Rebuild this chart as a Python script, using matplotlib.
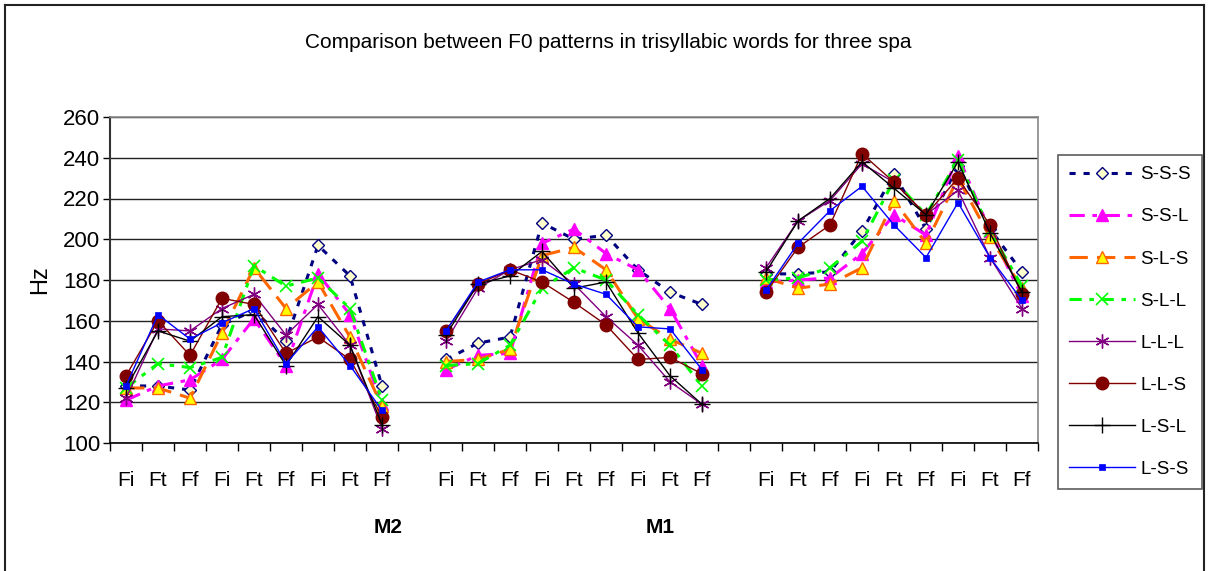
import matplotlib
matplotlib.use("Agg")
import matplotlib.pyplot as plt
from matplotlib.lines import Line2D
import numpy as np

plt.rcParams["font.family"] = ["Liberation Sans", "DejaVu Sans"]

TITLE = "Comparison between F0 patterns in trisyllabic words for three spa"
TICK_LABELS = ["Fi", "Ft", "Ff"] * 3
GROUPS = ["M2", "M1", ""]

# F0 (Hz) per series, one list of 9 values per speaker group: M2, M1, third
SSS = [[128, 128, 126, 158, 165, 150, 197, 182, 128],
       [141, 149, 152, 208, 200, 202, 185, 174, 168],
       [183, 183, 184, 204, 232, 205, 236, 205, 184]]
SSL = [[121, 128, 131, 141, 161, 138, 183, 163, 119],
       [136, 143, 144, 198, 205, 193, 185, 166, 138],
       [179, 180, 181, 193, 212, 202, 241, 204, 172]]
SLS = [[127, 127, 122, 154, 186, 166, 179, 152, 118],
       [140, 141, 146, 192, 196, 185, 161, 151, 144],
       [181, 176, 178, 186, 219, 198, 230, 201, 176]]
SLL = [[127, 139, 137, 142, 187, 177, 181, 166, 121],
       [138, 139, 148, 176, 186, 180, 163, 148, 128],
       [180, 181, 186, 199, 229, 212, 239, 204, 177]]
LLL = [[122, 156, 155, 166, 173, 153, 168, 148, 107],
       [150, 176, 185, 190, 178, 162, 148, 130, 119],
       [186, 209, 219, 237, 228, 212, 224, 191, 166]]
LLS = [[133, 160, 143, 171, 168, 144, 152, 141, 113],
       [155, 178, 185, 179, 169, 158, 141, 142, 134],
       [174, 196, 207, 242, 228, 212, 230, 207, 173]]
LSL = [[127, 155, 150, 162, 163, 138, 162, 148, 109],
       [153, 178, 182, 194, 176, 179, 154, 133, 119],
       [184, 209, 220, 238, 225, 212, 238, 203, 174]]
LSS = [[128, 163, 151, 159, 166, 139, 157, 138, 116],
       [155, 179, 185, 185, 178, 173, 157, 156, 136],
       [175, 198, 214, 226, 207, 191, 218, 191, 170]]


def with_gaps(groups):
    out = []
    for i, g in enumerate(groups):
        if i:
            out.append(np.nan)
        out.extend(g)
    return np.array(out, dtype=float)


SERIES = [
    ("S-S-S", SSS, dict(color="#000080", lw=2.2, ls=(0, (2, 2.6)), marker="D", ms=6.5,
                        mfc="#FFFFCC", mec="#000080", mew=1.0)),
    ("S-S-L", SSL, dict(color="#FF00FF", lw=2.2, ls=(0, (5, 2.5, 1.5, 2.5)), marker="^", ms=9,
                        mfc="#FF00FF", mec="#FF00FF", mew=1.0)),
    ("S-L-S", SLS, dict(color="#FF6600", lw=2.2, ls=(0, (6, 3)), marker="^", ms=9,
                        mfc="#FFFF00", mec="#FF6600", mew=1.0)),
    ("S-L-L", SLL, dict(color="#00FF00", lw=2.2, ls=(0, (4, 2.5, 1.5, 2.5)), marker="x", ms=9,
                        mfc="#00FF00", mec="#00FF00", mew=1.2)),
    ("L-L-L", LLL, dict(color="#800080", lw=1.0, ls="-", marker=(6, 2, 0), ms=10,
                        mfc="#800080", mec="#800080", mew=1.0)),
    ("L-L-S", LLS, dict(color="#800000", lw=1.0, ls="-", marker="o", ms=9,
                        mfc="#800000", mec="#800000", mew=1.0)),
    ("L-S-L", LSL, dict(color="#000000", lw=1.0, ls="-", marker="+", ms=11,
                        mfc="#000000", mec="#000000", mew=1.0)),
    ("L-S-S", LSS, dict(color="#0000FF", lw=1.0, ls="-", marker="s", ms=4.5,
                        mfc="#0000FF", mec="#0000FF", mew=0.5)),
]

W, H = 1209, 571
fig = plt.figure(figsize=(W / 100, H / 100), dpi=100)
ax = fig.add_axes([110 / W, 1 - 443 / H, (1038 - 110) / W, (443 - 117) / H])

n_cat = len(GROUPS) * len(TICK_LABELS) + len(GROUPS) - 1
x = np.arange(n_cat)
handles = []
for name, groups, style in SERIES:
    h, = ax.plot(x, with_gaps(groups), label=name, **style)
    handles.append(h)

ax.set_xlim(-0.5, n_cat - 0.5)
ax.set_ylim(100, 260)
ax.set_yticks(np.arange(100, 261, 20))
ax.yaxis.grid(True, color="#222222", lw=1.0)
ax.set_axisbelow(True)

labels = []
for i, _ in enumerate(GROUPS):
    if i:
        labels.append("")
    labels.extend(TICK_LABELS)
ax.set_xticks(x)
ax.set_xticklabels(labels)
ax.set_xticks(np.arange(-0.5, n_cat, 1), minor=True)
ax.tick_params(axis="x", which="major", length=0, pad=20, labelsize=15)
ax.tick_params(axis="x", which="minor", length=6, width=1, direction="out")
ax.tick_params(axis="y", length=5, width=1, direction="out", pad=2, labelsize=16)

for side in ["top", "right"]:
    ax.spines[side].set_color("#888888")
    ax.spines[side].set_linewidth(1.2)
ax.spines["left"].set_color("#333333")
ax.spines["left"].set_linewidth(1.5)
ax.spines["bottom"].set_linewidth(1.2)

# group labels under each group
for i, g in enumerate(GROUPS):
    if g:
        ax.text(i * 10 + 8.2 - i * 1.5, -0.26, g, transform=ax.get_xaxis_transform(),
                ha="center", va="center", fontsize=15, fontweight="bold")

fig.text(40 / W, 1 - 280 / H, "Hz", rotation=90, ha="center", va="center", fontsize=17)
fig.text(305 / W, 1 - 42 / H, TITLE, ha="left", va="center", fontsize=15)

leg = fig.legend(handles=handles, loc="upper left", bbox_to_anchor=(1058 / W, 1 - 155 / H),
                 bbox_transform=fig.transFigure, frameon=True, fancybox=False, fontsize=13.5,
                 handlelength=3.5, labelspacing=1.33, borderpad=0.6, handletextpad=0.3,
                 borderaxespad=0)
leg.get_frame().set_edgecolor("#333333")
leg.get_frame().set_linewidth(1.2)

# outer chart border
for (x0, y0), (x1, y1) in [((5, H), (5, 5)), ((5, 5), (1204, 5)), ((1204, 5), (1204, H))]:
    fig.add_artist(Line2D([x0 / W, x1 / W], [1 - y0 / H, 1 - y1 / H], color="#222222", lw=1.5))

fig.savefig("out.png", dpi=100)
